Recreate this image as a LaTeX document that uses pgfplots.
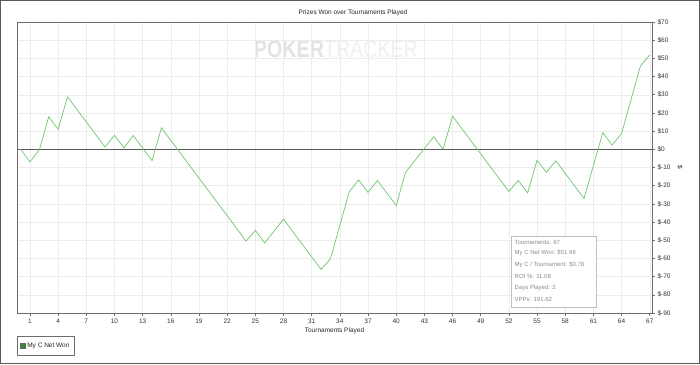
\documentclass[border=0pt]{standalone}
\usepackage{fontspec}
\setmainfont{Liberation Sans}
\usepackage{pgfplots}
\usepackage{pgfplotstable}
\pgfplotsset{compat=1.18}
\definecolor{linegreen}{RGB}{112,198,112}
\definecolor{legendgreen}{RGB}{46,139,46}
\definecolor{framegray}{RGB}{90,90,90}
\definecolor{axisgray}{RGB}{110,110,110}
\definecolor{gridgray}{RGB}{236,236,236}
\definecolor{statgray}{RGB}{140,140,140}

\pgfplotstableread{
n val
0 0
1 -6.9
2 -0.3
3 17.9
4 11.0
5 28.8
6 21.9
7 15.0
8 8.1
9 1.2
10 7.7
11 0.8
12 7.6
13 0.7
14 -6.2
15 11.8
16 4.9
17 -2.0
18 -8.9
19 -15.8
20 -22.7
21 -29.6
22 -36.5
23 -43.4
24 -50.5
25 -44.6
26 -51.5
27 -44.9
28 -38.4
29 -45.3
30 -52.2
31 -59.1
32 -66.0
33 -60.2
34 -41.8
35 -23.4
36 -16.8
37 -23.7
38 -17.1
39 -24.0
40 -30.9
41 -12.6
42 -6.1
43 0.4
44 6.9
45 0.0
46 18.2
47 11.3
48 4.4
49 -2.5
50 -9.4
51 -16.3
52 -23.2
53 -17.1
54 -24.0
55 -6.0
56 -12.6
57 -6.3
58 -13.2
59 -20.1
60 -27.0
61 -8.9
62 9.2
63 2.3
64 8.7
65 27.2
66 45.7
67 51.96
}\netwon

\begin{document}
\begin{tikzpicture}
% outer frame / bounding box
\draw[framegray, line width=1.5pt, fill=white] (-16.25pt,-50.25pt) rectangle (682.25pt,312.25pt);
% watermark
\node[anchor=center, inner sep=0pt, xscale=0.82] at (319pt,264pt)
  {\fontsize{24}{24}\selectfont\textcolor{black!11}{\textbf{POKER}}\textcolor{black!6}{TRACKER}};
% title
\node[font=\fontsize{6.5}{7}\selectfont, text=black!85] at (336pt,300.5pt) {Prizes Won over Tournaments Played};
\begin{axis}[
  at={(0pt,0pt)}, anchor=south west,
  scale only axis, width=635pt, height=291pt,
  xmin=-0.38, xmax=67.24, ymin=-90, ymax=70,
  xtick={1,4,...,67},
  ytick={-90,-80,...,70},
  xtick pos=lower, ytick pos=right, yticklabel pos=right,
  tick align=outside, major tick length=3pt,
  grid=major, grid style={draw=gridgray, line width=0.5pt},
  axis line style={draw=axisgray, line width=0.9pt},
  tick style={draw=axisgray, line width=0.6pt},
  ticklabel style={font=\fontsize{6.5}{7}\selectfont, text=black!80},
  /pgf/number format/assume math mode=true,
  yticklabel={\$\pgfmathprintnumber{\tick}},
  xticklabel style={yshift=1pt},
  yticklabel style={xshift=-1pt},
  xlabel={Tournaments Played},
  xlabel style={font=\fontsize{6.5}{7}\selectfont, text=black!85, yshift=2pt},
  ylabel={\$},
  ylabel style={font=\fontsize{6.5}{7}\selectfont, text=black!85, rotate=180},
  legend style={at={(axis description cs:0,-0.079)}, anchor=north west,
    draw=axisgray, line width=0.6pt, font=\fontsize{6.5}{7}\selectfont,
    inner xsep=3pt, inner ysep=4.5pt, text=black!85},
  legend cell align=left,
  legend image code/.code={\draw[fill=legendgreen, draw=black!60, line width=0.4pt] (0pt,-2.3pt) rectangle (4.6pt,2.3pt);},
]
\addplot[black!65, line width=0.8pt, forget plot] coordinates {(-0.38,0) (67.24,0)};
\addplot[linegreen, line width=0.7pt, mark=none] table[x=n, y=val] {\netwon};
\addlegendentry{My C Net Won}
\end{axis}
% stats box
\draw[black!25, line width=0.8pt, fill=white] (494.7pt,5.7pt) rectangle (579pt,76.3pt);
\begin{scope}[every node/.style={anchor=west, inner sep=0pt, font=\fontsize{6}{6.5}\selectfont, text=statgray}]
\node at (497.5pt,71pt) {Tournaments: 67};
\node at (497.5pt,59.6pt) {My C Net Won: \$51.96};
\node at (497.5pt,48.2pt) {My C / Tournament: \$0.78};
\node at (497.5pt,36.8pt) {ROI \%: 11.08};
\node at (497.5pt,25.4pt) {Days Played: 2};
\node at (497.5pt,14pt) {VPPs: 191.62};
\end{scope}
\end{tikzpicture}
\end{document}
